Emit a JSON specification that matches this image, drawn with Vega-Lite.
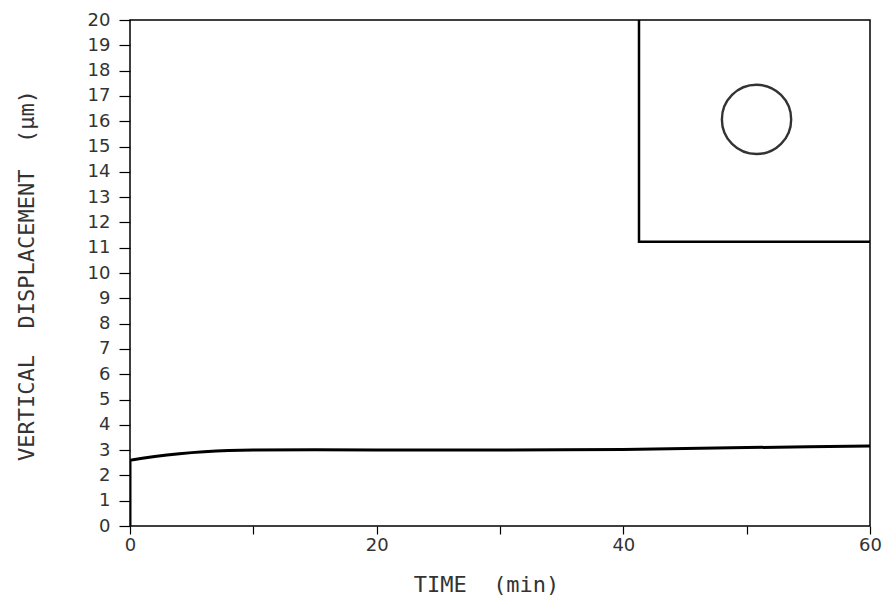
{
  "$schema": "https://vega.github.io/schema/vega-lite/v6.json",
  "width": 740,
  "height": 506,
  "autosize": {"type": "none"},
  "padding": {"left": 130, "top": 20, "right": 13, "bottom": 71},
  "background": "white",
  "config": {
    "view": {"stroke": "black", "strokeWidth": 1.5},
    "axis": {
      "labelFont": "DejaVu Sans",
      "titleFont": "DejaVu Sans Mono",
      "labelColor": "#333",
      "titleColor": "#333",
      "titleFontWeight": "normal",
      "grid": false,
      "domain": false,
      "tickColor": "black",
      "tickWidth": 1.2,
      "labelFlush": false,
      "labelBound": false
    }
  },
  "layer": [
    {
      "data": {"values": [
        {"i": 0, "t": 0, "d": 0},
        {"i": 1, "t": 0, "d": 2.6},
        {"i": 2, "t": 1, "d": 2.68},
        {"i": 3, "t": 2, "d": 2.75},
        {"i": 4, "t": 3, "d": 2.81},
        {"i": 5, "t": 4, "d": 2.86},
        {"i": 6, "t": 5, "d": 2.9},
        {"i": 7, "t": 6, "d": 2.93},
        {"i": 8, "t": 7, "d": 2.96},
        {"i": 9, "t": 8, "d": 2.98},
        {"i": 10, "t": 10, "d": 3.0},
        {"i": 11, "t": 15, "d": 3.01},
        {"i": 12, "t": 20, "d": 3.0},
        {"i": 13, "t": 25, "d": 3.0},
        {"i": 14, "t": 30, "d": 3.0},
        {"i": 15, "t": 35, "d": 3.01},
        {"i": 16, "t": 40, "d": 3.02},
        {"i": 17, "t": 45, "d": 3.06},
        {"i": 18, "t": 50, "d": 3.1},
        {"i": 19, "t": 55, "d": 3.13},
        {"i": 20, "t": 60, "d": 3.16}
      ]},
      "mark": {"type": "line", "color": "black", "strokeWidth": 3, "clip": true},
      "encoding": {
        "x": {
          "field": "t", "type": "quantitative",
          "scale": {"domain": [0, 60], "nice": false},
          "axis": {
            "title": "TIME\u00a0\u00a0(min)",
            "values": [0, 10, 20, 30, 40, 50, 60],
            "labelExpr": "datum.value % 20 == 0 ? datum.label : ''",
            "labelOverlap": false,
            "tickSize": 8,
            "labelFontSize": 18,
            "labelPadding": 2,
            "titleFontSize": 22,
            "titleX": 356,
            "titleY": 65,
            "titleBaseline": "alphabetic"
          }
        },
        "y": {
          "field": "d", "type": "quantitative",
          "scale": {"domain": [0, 20], "nice": false},
          "axis": {
            "title": "VERTICAL\u00a0\u00a0DISPLACEMENT\u00a0\u00a0(\u03bcm)",
            "values": [0,1,2,3,4,5,6,7,8,9,10,11,12,13,14,15,16,17,18,19,20],
            "tickCount": 21,
            "labelOverlap": false,
            "tickSize": 11,
            "labelFontSize": 18,
            "labelPadding": 9,
            "titleFontSize": 22,
            "titleAngle": 270,
            "titleX": -97,
            "titleY": 255,
            "titleBaseline": "alphabetic"
          }
        },
        "order": {"field": "i"}
      }
    },
    {
      "data": {"values": [
        {"i": 0, "t": 41.27, "d": 20},
        {"i": 1, "t": 41.27, "d": 11.24},
        {"i": 2, "t": 60, "d": 11.24}
      ]},
      "mark": {"type": "line", "color": "black", "strokeWidth": 2.5},
      "encoding": {
        "x": {"field": "t", "type": "quantitative"},
        "y": {"field": "d", "type": "quantitative"},
        "order": {"field": "i"}
      }
    },
    {
      "data": {"values": [{"t": 50.8, "d": 16.07}]},
      "mark": {"type": "point", "shape": "circle", "filled": false, "color": "#333", "strokeWidth": 2.4, "size": 4800, "opacity": 1},
      "encoding": {
        "x": {"field": "t", "type": "quantitative"},
        "y": {"field": "d", "type": "quantitative"}
      }
    }
  ]
}
